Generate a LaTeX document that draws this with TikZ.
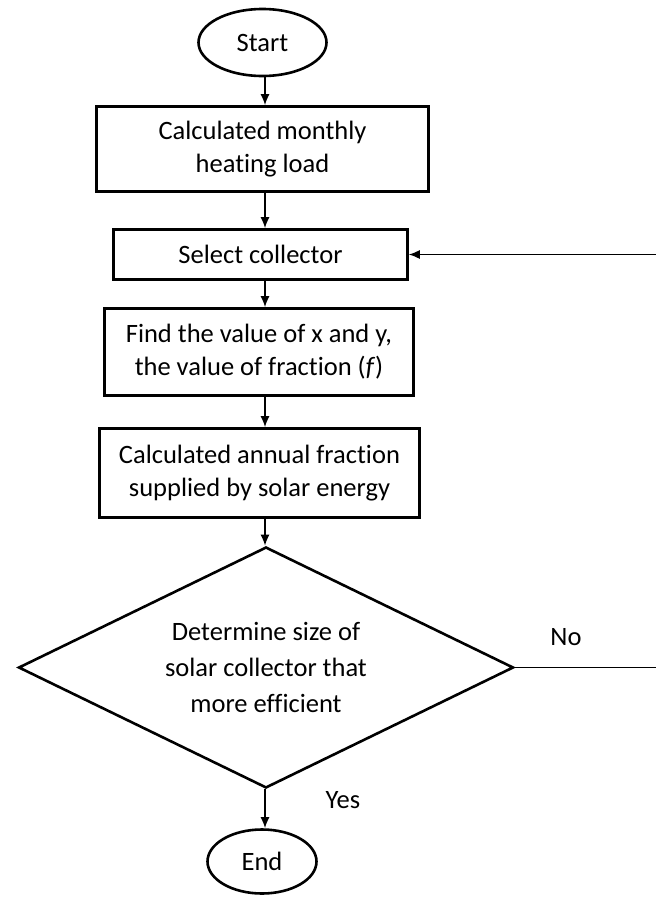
\documentclass[tikz,border=0pt]{standalone}
\usepackage{fontspec}
\setmainfont{Carlito}[Ligatures=NoCommon]
\usetikzlibrary{shapes.geometric,arrows.meta}
\begin{document}
\begin{tikzpicture}[x=1pt,y=-1pt,
  txt/.style={font=\fontsize{26.5}{33}\selectfont, align=center},
  stepbox/.style={draw, line width=2.6pt, txt, inner sep=0pt},
  term/.style={ellipse, draw, line width=2.6pt, txt, inner sep=0pt},
  decision/.style={diamond, draw, line width=2.6pt, font=\fontsize{26.5}{36}\selectfont, align=center, inner sep=0pt, aspect=2},
  arr/.style={-{Latex[length=11pt,width=9pt]}, line width=1.6pt},
  fbarr/.style={-{Latex[length=11pt,width=9pt]}, line width=1.3pt}]
\useasboundingbox (0,0) rectangle (656,897);
\coordinate (spine) at (265,0);
\coordinate (fb) at (658,0);
\node[term, minimum width=128pt, minimum height=67pt] (start) at (262.5,42.5) {Start};
\node[stepbox, minimum width=332pt, minimum height=85pt] (b1) at (262.5,149) {Calculated monthly\\heating load};
\node[stepbox, minimum width=294pt, minimum height=50pt] (b2) at (260.5,254.5) {Select collector};
\node[stepbox, minimum width=309pt, minimum height=87pt] (b3) at (259,352) {Find the value of x and y,\\the value of fraction (\textit{f})};
\node[stepbox, minimum width=320pt, minimum height=89pt] (b4) at (259.5,473) {Calculated annual fraction\\supplied by solar energy};
\node[decision, minimum width=495pt, minimum height=241pt] (dec) at (266,667.5) {Determine size of\\solar collector that\\more efficient};
\node[term, minimum width=109pt, minimum height=64pt] (end) at (262,861.5) {End};
\node[txt] (no) at (566,637) {No};
\node[txt] (yes) at (343,800) {Yes};
\draw[arr] (start.south -| spine) -- (b1.north -| spine);
\draw[arr] (b1.south -| spine) -- (b2.north -| spine);
\draw[arr] (b2.south -| spine) -- (b3.north -| spine);
\draw[arr] (b3.south -| spine) -- (b4.north -| spine);
\draw[arr] (b4.south -| spine) -- (dec.north -| spine);
\draw[arr] (dec.south -| spine) -- (end.north -| spine);
\draw[fbarr] (dec.east) -- (dec.east -| fb) |- (b2.east);
\end{tikzpicture}
\end{document}
